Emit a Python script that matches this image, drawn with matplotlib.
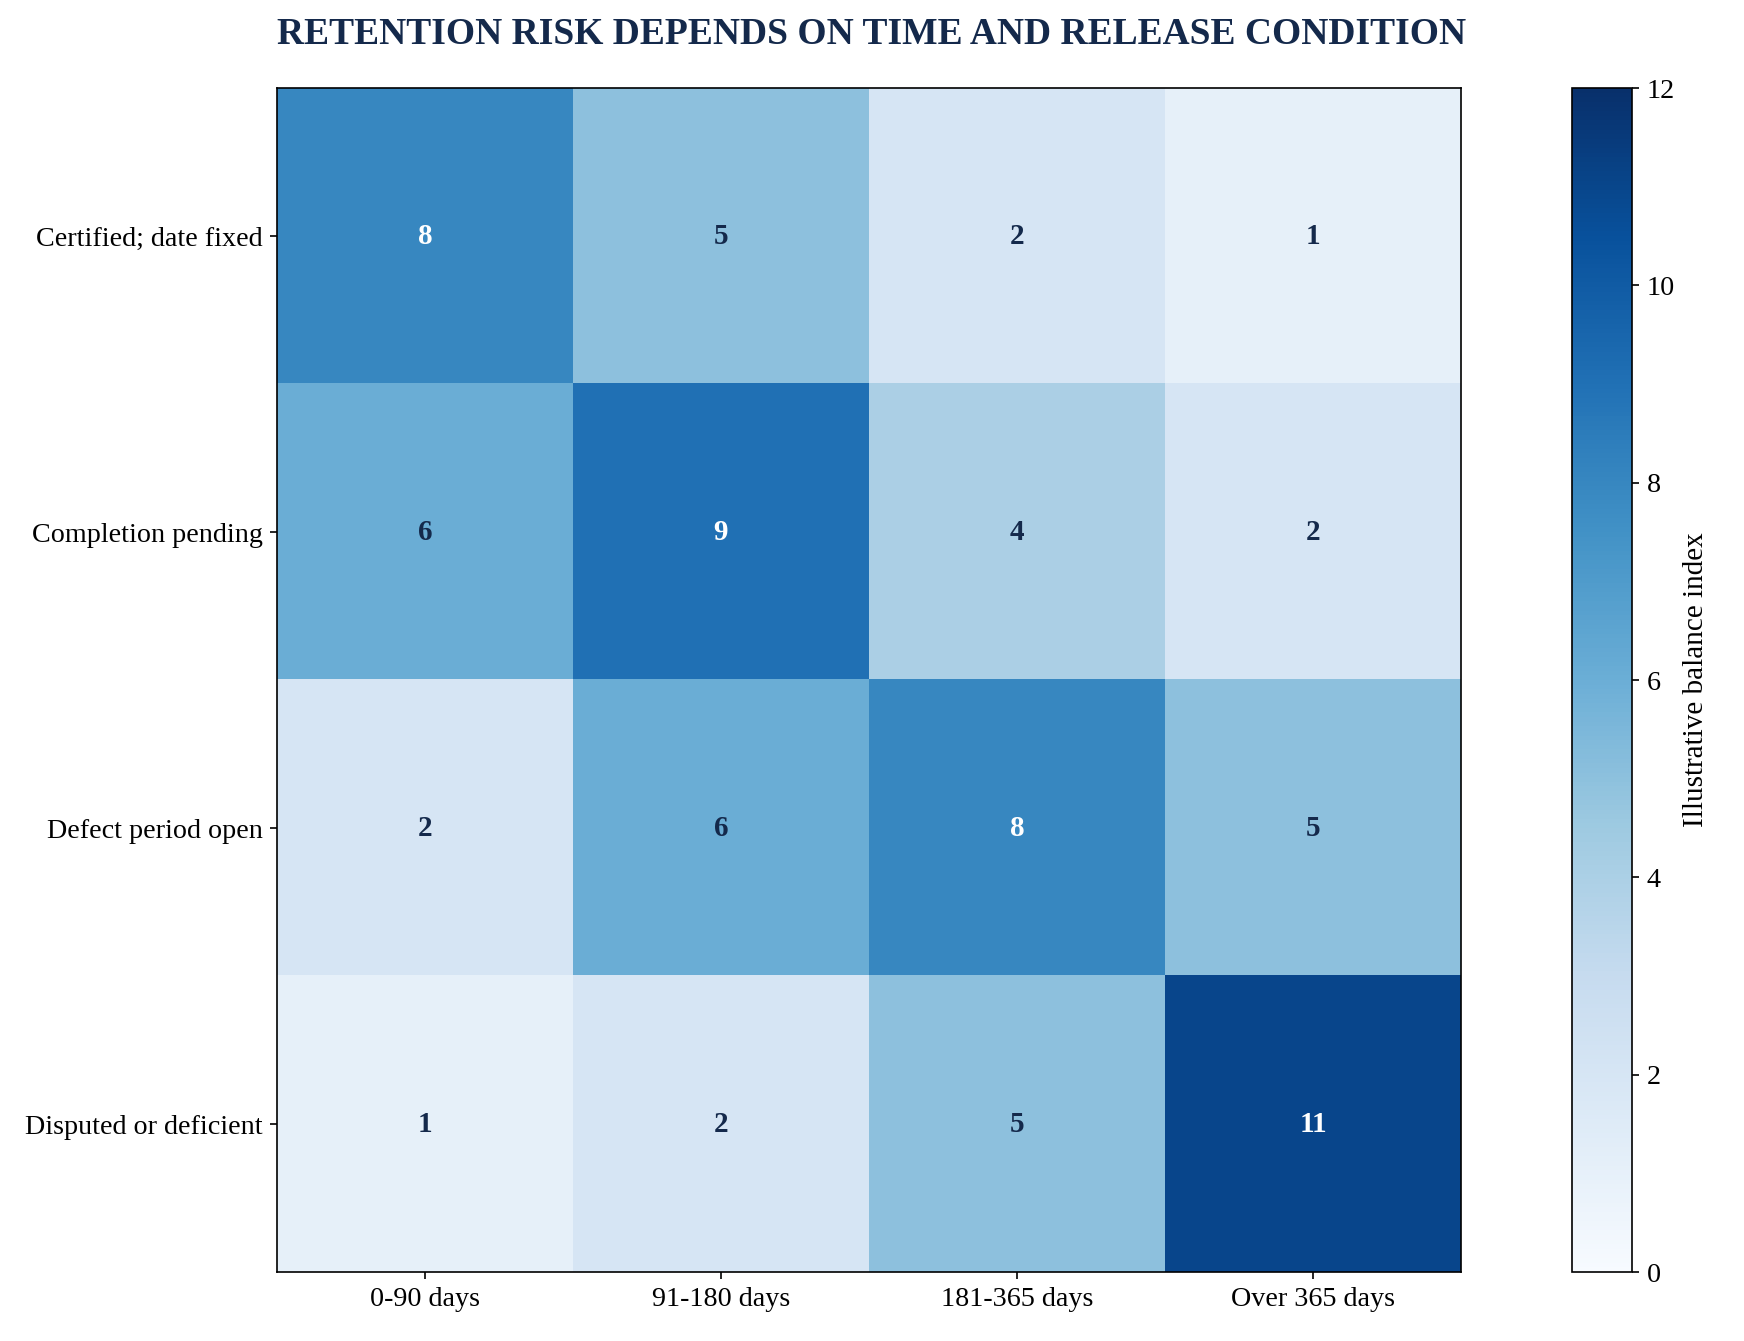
import matplotlib
matplotlib.use("Agg")
import matplotlib.pyplot as plt
import numpy as np

plt.rcParams['font.family'] = ['Liberation Serif', 'DejaVu Serif']

rows = ["Certified; date fixed", "Completion pending", "Defect period open", "Disputed or deficient"]
cols = ["0-90 days", "91-180 days", "181-365 days", "Over 365 days"]
certified = [8, 5, 2, 1]
pending = [6, 9, 4, 2]
defect = [2, 6, 8, 5]
disputed = [1, 2, 5, 11]

data = np.array([certified, pending, defect, disputed])
navy = "#14294b"

W, H = 1744, 1341
fig = plt.figure(figsize=(W/150, H/150), dpi=150)
ax = fig.add_axes([277/W, 1 - 1272/H, (1461-277)/W, (1272-88)/H])
cax = fig.add_axes([1572/W, 1 - 1272/H, (1632-1572)/W, (1272-88)/H])

im = ax.imshow(data, cmap="Blues", vmin=0, vmax=12, aspect="auto")
ax.set_xticks(range(len(cols)))
ax.set_xticklabels(cols, fontsize=13.5)
ax.set_yticks(range(len(rows)))
ax.set_yticklabels(rows, fontsize=13.5)
for i in range(data.shape[0]):
    for j in range(data.shape[1]):
        v = data[i, j]
        ax.text(j, i, str(v), ha="center", va="center", fontsize=14, fontweight="bold",
                color="white" if v >= 7 else navy)

cb = fig.colorbar(im, cax=cax)
cb.set_label("Illustrative balance index", fontsize=14)
cb.ax.tick_params(labelsize=13.5)

fig.text(0.5, 1 - 34/H, "RETENTION RISK DEPENDS ON TIME AND RELEASE CONDITION",
         ha="center", va="center", fontsize=18, fontweight="bold", color=navy)

fig.savefig("out.png", dpi=150)
